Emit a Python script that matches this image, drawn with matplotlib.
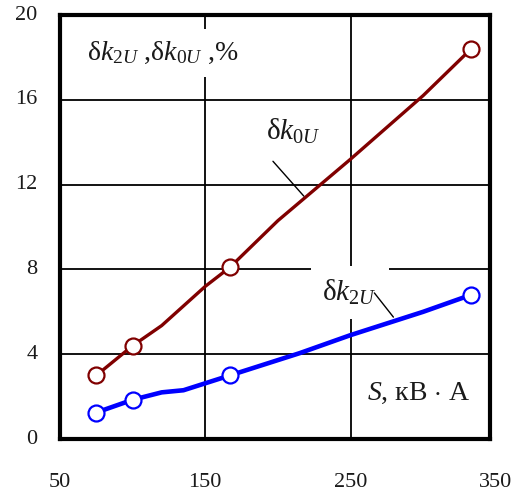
import matplotlib
matplotlib.use("Agg")
import matplotlib.pyplot as plt
from matplotlib.transforms import blended_transform_factory

plt.rcParams['mathtext.fontset'] = 'custom'
plt.rcParams['mathtext.rm'] = 'Liberation Serif'
plt.rcParams['mathtext.it'] = 'Liberation Serif:italic'
plt.rcParams['font.family'] = ['Liberation Serif', 'DejaVu Serif']

# Data
s_points = [75, 100, 167, 333]
dk0u_points = [3.0, 4.4, 8.1, 18.4]
dk2u_points = [1.25, 1.85, 3.0, 6.8]
# curve traces (including bends)
s_curve0 = [75, 100, 120, 150, 167, 200, 250, 300, 333]
dk0u_curve = [3.0, 4.4, 5.35, 7.2, 8.1, 10.3, 13.2, 16.2, 18.4]
s_curve2 = [75, 100, 120, 135, 167, 215, 250, 300, 333]
dk2u_curve = [1.25, 1.85, 2.2, 2.3, 3.0, 4.05, 4.9, 6.0, 6.8]

xticks = [50, 150, 250, 350]
yticks = [0, 4, 8, 12, 16, 20]

txt_color = '#1a1a1a'
red = '#800000'
blue = '#0000ff'

fig = plt.figure(figsize=(5.16, 4.95), dpi=100)
ax = fig.add_axes([60/516, 1-439/495, 430/516, 424/495])
ax.set_xlim(50, 346)
ax.set_ylim(0, 20)

ax.set_xticks([150, 250])
ax.set_xticklabels([])
ax.set_yticks(yticks[1:-1])
ax.set_yticklabels([])
ax.tick_params(length=0)
ax.grid(True, color='black', linewidth=1.3, zorder=1)
for sp in ax.spines.values():
    sp.set_linewidth(3)
    sp.set_zorder(6)

# tick labels
tx = blended_transform_factory(ax.transData, ax.transAxes)
for v in xticks:
    ax.text(v, -0.103, str(v), transform=tx, ha='center', va='center',
            fontsize=16, color=txt_color, clip_on=False)
ty = blended_transform_factory(ax.transAxes, ax.transData)
for v in yticks:
    ax.text(-0.052, v, str(v), transform=ty, ha='right', va='center',
            fontsize=16, color=txt_color, clip_on=False)

ax.plot(s_curve0, dk0u_curve, color=red, lw=2.4, zorder=3)
ax.plot(s_curve2, dk2u_curve, color=blue, lw=3.3, zorder=3)
ax.plot(s_points, dk0u_points, 'o', ms=11.5, mfc='white', mec=red, mew=1.6, zorder=4)
ax.plot(s_points, dk2u_points, 'o', ms=11.5, mfc='white', mec=blue, mew=1.6, zorder=4)

box = dict(boxstyle='square,pad=0.4', fc='white', ec='none')
ax.text(68.5, 18.2, r'δ$k_{2U}$ ,δ$k_{0U}$ ,%', fontsize=20, color=txt_color,
        va='center', ha='left', bbox=box, zorder=5)
ax.text(191.5, 14.5, r'δ$k_{0U}$', fontsize=21, color=txt_color,
        va='center', ha='left', zorder=5)
ax.text(230.5, 6.9, r'δ$k_{2U}$', fontsize=21, color=txt_color,
        va='center', ha='left', bbox=dict(boxstyle='square,pad=0.4', fc='white', ec='none'), zorder=5)
ax.text(261, 2.17, r'$S$, кВ $\cdot$ A', fontsize=20, color=txt_color,
        va='center', ha='left', zorder=5)

ax.annotate('', xy=(217.8, 11.46), xytext=(196.6, 13.1),
            arrowprops=dict(arrowstyle='-', color='black', lw=1.0, shrinkA=0, shrinkB=0), zorder=5)
ax.annotate('', xy=(279.5, 5.75), xytext=(266.4, 6.89),
            arrowprops=dict(arrowstyle='-', color='black', lw=1.0, shrinkA=0, shrinkB=0), zorder=6)

fig.savefig('out.png', dpi=100)
